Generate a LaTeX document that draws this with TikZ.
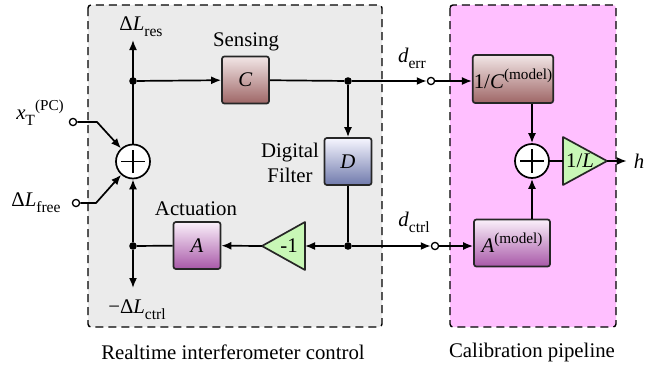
\documentclass[tikz,border=0pt]{standalone}
\usepackage{fontspec}
\setmainfont{Liberation Serif}
\usetikzlibrary{arrows.meta}
\newcommand{\lo}[1]{\raisebox{-0.3em}{\fontsize{7.8}{8}\selectfont #1}}
\newcommand{\hi}[1]{\raisebox{0.42em}{\fontsize{7.6}{8}\selectfont #1}}
\definecolor{bggray}{RGB}{235,235,235}
\definecolor{bgpink}{RGB}{255,191,255}
\definecolor{trigreen}{RGB}{200,247,182}
\definecolor{ctop}{RGB}{242,230,230}
\definecolor{cbot}{RGB}{158,102,102}
\definecolor{dtop}{RGB}{246,246,255}
\definecolor{dbot}{RGB}{112,122,172}
\definecolor{atop}{RGB}{250,240,250}
\definecolor{abot}{RGB}{168,88,168}
\begin{document}
\begin{tikzpicture}[x=0.5pt,y=-0.5pt,
  font=\fontsize{10.4}{12.5}\selectfont,
  region/.style={draw, dash pattern=on 4pt off 2.5pt, line width=0.7pt, rounded corners=1.5pt},
  blk/.style={draw=black!85, line width=0.85pt, rounded corners=1.2pt, minimum width=23.5pt, minimum height=23.5pt, inner sep=0.5pt},
  cshade/.style={top color=ctop, bottom color=cbot},
  dshade/.style={top color=dtop, bottom color=dbot},
  ashade/.style={top color=atop, bottom color=abot},
  sumnode/.style={circle, draw, fill=white, line width=0.85pt, minimum size=17pt, inner sep=0pt,
    path picture={\draw[line width=0.8pt] ([xshift=-5.8pt]path picture bounding box.center) -- ([xshift=5.8pt]path picture bounding box.center)
      ([yshift=-5.8pt]path picture bounding box.center) -- ([yshift=5.8pt]path picture bounding box.center);}},
  jdot/.style={circle, fill, inner sep=0pt, minimum size=3.8pt},
  port/.style={circle, draw, fill=white, inner sep=0pt, minimum size=3.6pt, line width=0.65pt},
  wire/.style={line width=0.85pt},
  arr/.style={wire, -{Latex[length=5pt,width=4pt]}},
  tri/.style={draw=black!85, line width=0.85pt, fill=trigreen, line join=round}]
\useasboundingbox (0,0) rectangle (649,370);

% regions
\draw[region, fill=bggray] (88,5) rectangle (382,327);
\draw[region, fill=bgpink] (450,5) rectangle (616,327);

% blocks
\node[blk, cshade] (C) at (245.5,80) {\textit{C}};
\node (lC) at (246,42) {Sensing};
\node[blk, dshade] (D) at (348,161.5) {\textit{D}};
\node[align=center] (lD) at (290,163) {Digital\\Filter};
\node[blk, ashade] (A) at (197,245.5) {\textit{A}};
\node (lA) at (196,209) {Actuation};
\node[sumnode] (S1) at (133,161.5) {};
\node[jdot] (j1) at (133,81) {};
\node[jdot] (j2) at (348,81) {};
\node[jdot] (j3) at (348,246) {};
\node[jdot] (j4) at (133,246) {};
\coordinate (res) at (133,40);
\coordinate (ctrl) at (133,288);
\node[port] (perr) at (431,81) {};
\node[port] (pctrl) at (435,246) {};
\node[blk, cshade, minimum width=39pt, minimum height=24pt] (Cm) at (513,79) {1/\textit{C}\hi{(model)}};
\node[blk, ashade, minimum width=38pt] (Am) at (512,243) {\textit{A}\hi{(model)}};
\node[sumnode] (S2) at (532,161) {};

% gain triangles
\draw[tri] (305,222) -- (262,246) -- (305,270) -- cycle;
\coordinate (Nin) at (305,246);
\coordinate (Nout) at (262,246);
\node (lN) at (289,246) {-1};
\draw[tri] (563,137) -- (607,161) -- (563,185) -- cycle;
\coordinate (Lin) at (563,161);
\coordinate (Lout) at (607,161);
\node (lL) at (580,161) {1/\textit{L}};
\node (h) at (639,161) {\textit{h}};

% inputs
\node[port] (xin) at (73,122) {};
\coordinate (xb) at (97,122);
\node[port] (fin) at (76,203) {};
\coordinate (fb) at (96,203);
\node (xl) at (40,113) {\textit{x}\lo{T}\hi{(PC)}};
\node (fl) at (36,203) {Δ\textit{L}\lo{free}};

% labels
\node (lres) at (141,27) {Δ\textit{L}\lo{res}};
\node (lctrl) at (137,310) {−Δ\textit{L}\lo{ctrl}};
\node (lerr) at (412,58) {\textit{d}\lo{err}};
\node (ldctrl) at (414,222) {\textit{d}\lo{ctrl}};
\node (cap1) at (233,352) {Realtime interferometer control};
\node (cap2) at (532,352) {Calibration pipeline};

% connectors
\draw[arr] (xin) -- (xb) -- (S1);
\draw[arr] (fin) -- (fb) -- (S1);
\draw[arr] (S1) -- (res);
\draw[arr] (j1) -- (C);
\draw[wire] (C) -- (j2);
\draw[arr] (j2) -- (perr);
\draw[arr] (perr) -- (perr -| Cm.west);
\draw[arr] (j2) -- (D);
\draw[wire] (D) -- (j3);
\draw[arr] (j3) -- (Nin);
\draw[arr] (Nout) -- (A);
\draw[wire] (A) -- (j4);
\draw[arr] (j4) -- (S1);
\draw[arr] (j4) -- (ctrl);
\draw[arr] (j3) -- (pctrl);
\draw[arr] (pctrl) -- (pctrl -| Am.west);
\draw[arr] (Cm.south -| S2) -- (S2);
\draw[arr] (Am.north -| S2) -- (S2);
\draw[wire] (S2) -- (Lin);
\draw[arr] (Lout) -- (h);
\end{tikzpicture}
\end{document}
